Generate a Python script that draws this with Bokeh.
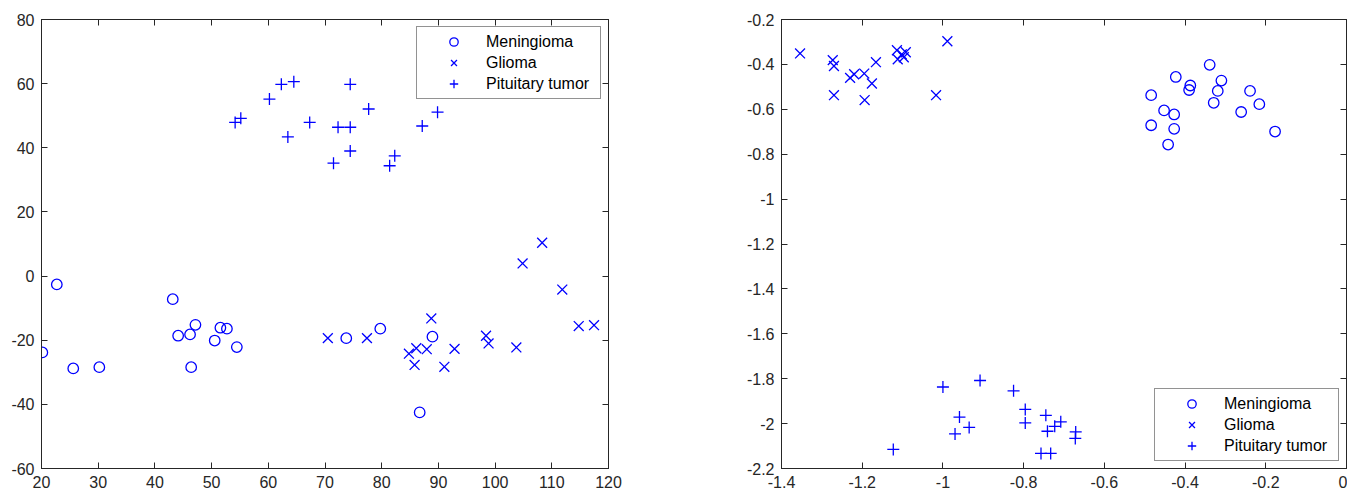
from bokeh.plotting import figure
from bokeh.layouts import row
from bokeh.models import Range1d, FixedTicker, LinearAxis, CustomJSTickFormatter, Legend
from bokeh.embed import file_html
from bokeh.resources import INLINE

# ---------------- data (left panel) ----------------
men_x = [20.15, 22.7, 25.6, 30.2, 43.15, 44.1, 46.2, 47.15, 46.4, 50.55, 51.55, 52.7, 54.45, 73.75, 79.75, 88.95, 86.7]
men_y = [-23.8, -2.6, -28.8, -28.4, -7.2, -18.6, -18.2, -15.2, -28.4, -20.1, -16.1, -16.4, -22.15, -19.35, -16.4, -18.9, -42.5]

gli_x = [70.5, 77.4, 84.8, 86.1, 87.95, 85.8, 88.75, 91.05, 92.85, 98.4, 98.85, 103.75, 104.85, 108.3, 111.85, 114.75, 117.45]
gli_y = [-19.35, -19.35, -24.2, -22.5, -22.8, -27.7, -13.2, -28.3, -22.7, -18.6, -21.0, -22.25, 3.95, 10.4, -4.2, -15.6, -15.3]

pit_x = [54.15, 55.15, 60.2, 62.3, 64.5, 63.45, 67.3, 71.5, 72.3, 74.45, 74.45, 77.7, 74.45, 82.3, 81.4, 87.15, 89.85]
pit_y = [47.9, 49.2, 55.2, 59.8, 60.6, 43.4, 47.9, 35.2, 46.4, 46.4, 59.8, 52.1, 39.0, 37.5, 34.4, 46.8, 51.1]

# ---------------- data (right panel) ----------------
men2_x = [-0.484, -0.484, -0.452, -0.427, -0.427, -0.442, -0.423, -0.387, -0.390, -0.339, -0.310, -0.319, -0.329, -0.239, -0.216, -0.261, -0.177]
men2_y = [-0.537, -0.671, -0.605, -0.623, -0.687, -0.757, -0.456, -0.494, -0.514, -0.402, -0.472, -0.518, -0.571, -0.518, -0.577, -0.612, -0.699]

gli2_x = [-1.354, -1.273, -1.270, -1.270, -1.230, -1.220, -1.195, -1.194, -1.176, -1.166, -1.114, -1.112, -1.102, -1.092, -1.097, -1.017, -0.989]
gli2_y = [-0.351, -0.381, -0.407, -0.537, -0.460, -0.444, -0.441, -0.559, -0.485, -0.390, -0.337, -0.377, -0.355, -0.346, -0.368, -0.537, -0.297]

pit2_x = [-1.123, -1.000, -0.908, -0.959, -0.935, -0.970, -0.825, -0.796, -0.796, -0.745, -0.741, -0.723, -0.708, -0.671, -0.672, -0.757, -0.733]
pit2_y = [-2.115, -1.837, -1.808, -1.971, -2.017, -2.046, -1.854, -1.937, -1.997, -1.963, -2.034, -2.012, -1.992, -2.037, -2.066, -2.133, -2.133]

labels = ["Meningioma", "Glioma", "Pituitary tumor"]

x1_ticks = [20, 30, 40, 50, 60, 70, 80, 90, 100, 110, 120]
y1_ticks = [-60, -40, -20, 0, 20, 40, 60, 80]
x2_ticks = [-1.4, -1.2, -1.0, -0.8, -0.6, -0.4, -0.2, 0.0]
y2_ticks = [-2.2, -2.0, -1.8, -1.6, -1.4, -1.2, -1.0, -0.8, -0.6, -0.4, -0.2]

FONT = "Liberation Sans"
AX = "#262626"
BLUE = "#0000ff"

fmt_js = "return String(Math.round(tick * 10) / 10);"


def style(ax, ticks, show):
    ax.ticker = FixedTicker(ticks=ticks)
    ax.formatter = CustomJSTickFormatter(code=fmt_js)
    ax.axis_line_color = AX
    ax.axis_line_width = 1
    ax.major_tick_in = 6
    ax.major_tick_out = 0
    ax.major_tick_line_color = AX
    ax.major_tick_line_width = 1
    ax.minor_tick_line_color = None
    ax.major_label_text_font = FONT
    ax.major_label_text_font_size = "16px"
    if show:
        ax.major_label_text_color = AX
        ax.major_label_standoff = 7
    else:
        ax.major_label_text_color = None
        ax.major_label_standoff = 0


def make(w, h, xr, yr, xt, yt, mb_left, mb_right, data, loc):
    p = figure(width=w, height=h, x_range=Range1d(*xr), y_range=Range1d(*yr),
               output_backend="svg", toolbar_location=None,
               min_border_left=mb_left, min_border_right=mb_right,
               min_border_top=19, min_border_bottom=26)
    p.xgrid.visible = False
    p.ygrid.visible = False
    p.outline_line_color = AX
    p.background_fill_color = "white"
    p.border_fill_color = "white"
    style(p.below[0], xt, True)
    p.below[0].major_label_standoff = 7
    style(p.left[0], yt, True)
    top = LinearAxis()
    style(top, xt, False)
    p.add_layout(top, "above")
    rgt = LinearAxis()
    style(rgt, yt, False)
    p.add_layout(rgt, "right")

    (mx, my), (gx, gy), (px, py) = data
    r1 = p.scatter(mx, my, marker="circle", size=10.5, fill_color=None, line_color=BLUE, line_width=1.3)
    r2 = p.scatter(gx, gy, marker="x", size=14, line_color=BLUE, line_width=1.3)
    r3 = p.scatter(px, py, marker="cross", size=12, line_color=BLUE, line_width=1.3)
    leg = Legend(items=[(labels[0], [r1]), (labels[1], [r2]), (labels[2], [r3])],
                 location=loc, margin=7, padding=4, spacing=0,
                 glyph_width=65, glyph_height=21, label_height=21, label_width=110,
                 label_standoff=0, label_text_font=FONT, label_text_font_size="16px",
                 label_text_color="black", border_line_color=AX, border_line_width=1,
                 background_fill_color="white", background_fill_alpha=1.0)
    p.add_layout(leg, "center")
    return p


p1 = make(700, 494, (20, 120), (-60, 80), x1_ticks, y1_ticks, 41, 92,
          [(men_x, men_y), (gli_x, gli_y), (pit_x, pit_y)], "top_right")
p2 = make(647, 494, (-1.4, 0), (-2.2, -0.2), x2_ticks, y2_ticks, 81, 1,
          [(men2_x, men2_y), (gli2_x, gli2_y), (pit2_x, pit2_y)], "bottom_right")

layout = row(p1, p2, spacing=0)
open("out.html", "w").write(file_html(layout, INLINE))
